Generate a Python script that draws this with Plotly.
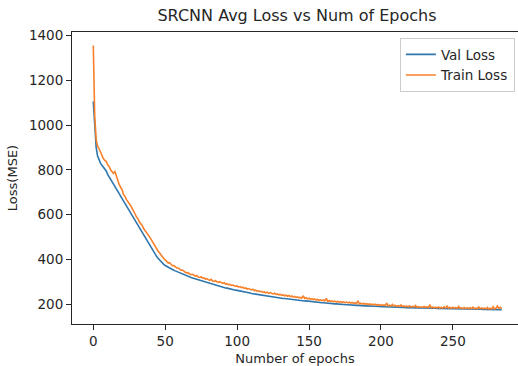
import plotly.graph_objects as go

val_loss = [
    1105, 985, 900, 862, 843, 830, 820, 812, 804, 795,
    780, 770, 760, 749, 738, 727, 716, 705, 694, 683,
    672, 661, 650, 639, 628, 617, 606, 595, 584, 573,
    562, 551, 540, 529, 519, 509, 499, 489, 479, 468,
    457, 446, 435, 424, 414, 405, 397, 390, 384, 378,
    373, 369, 365, 361, 358, 355, 352, 349, 346, 343,
    340, 337, 334, 331, 328, 326, 323, 321, 319, 317,
    315, 313, 311, 309, 307, 304, 302, 300, 298, 296,
    294, 292, 290, 288, 286, 284, 282, 280, 279, 277,
    276, 274, 273, 272, 270, 269, 267, 266, 265, 263,
    262, 261, 259, 258, 256, 255, 254, 252, 251, 250,
    248, 247, 246, 244, 243, 242, 240, 239, 238, 237,
    236, 235, 234, 234, 233, 232, 231, 230, 230, 229,
    228, 227, 226, 226, 225, 224, 223, 222, 222, 221,
    220, 219, 219, 218, 217, 217, 216, 215, 215, 214,
    213, 213, 212, 211, 211, 210, 209, 209, 208, 207,
    207, 206, 205, 205, 204, 204, 203, 203, 202, 202,
    201, 201, 200, 200, 199, 199, 198, 198, 197, 197,
    196, 196, 196, 195, 195, 194, 194, 194, 193, 193,
    193, 192, 192, 192, 191, 191, 191, 190, 190, 190,
    189, 189, 189, 189, 188, 188, 188, 188, 187, 187,
    187, 187, 186, 186, 186, 186, 186, 185, 185, 185,
    185, 185, 184, 184, 184, 184, 184, 183, 183, 183,
    183, 183, 183, 182, 182, 182, 182, 182, 182, 181,
    181, 181, 181, 181, 181, 181, 180, 180, 180, 180,
    180, 180, 180, 180, 179, 179, 179, 179, 179, 179,
    179, 179, 178, 178, 178, 178, 178, 178, 178, 178,
    178, 177, 177, 177, 177, 177, 177, 177, 177, 177,
    177, 176, 176, 176, 176,
]

train_loss = [
    1355, 1040, 935, 905, 895, 880, 862, 850, 842, 838,
    822, 815, 800, 790, 785, 792, 770, 752, 735, 722,
    712, 690, 682, 668, 660, 648, 640, 628, 612, 604,
    590, 582, 568, 560, 552, 538, 530, 522, 510, 502,
    492, 480, 470, 458, 450, 438, 430, 420, 412, 404,
    398, 392, 385, 386, 378, 372, 373, 366, 362, 362,
    356, 352, 353, 346, 343, 340, 341, 335, 332, 334,
    328, 326, 329, 322, 320, 323, 316, 318, 312, 314,
    310, 307, 311, 304, 302, 306, 300, 298, 301, 295,
    293, 296, 290, 292, 287, 289, 284, 286, 283, 280,
    282, 277, 279, 274, 276, 271, 273, 268, 270, 266,
    264, 267, 261, 263, 258, 260, 256, 258, 253, 255,
    251, 254, 249, 252, 247, 246, 249, 244, 246, 242,
    244, 240, 242, 238, 241, 236, 239, 234, 237, 232,
    235, 230, 233, 229, 231, 227, 238, 226, 229, 224,
    227, 222, 225, 221, 224, 219, 222, 217, 220, 216,
    219, 215, 226, 213, 217, 212, 215, 211, 214, 210,
    213, 209, 212, 208, 211, 207, 210, 206, 209, 205,
    208, 204, 207, 203, 215, 202, 205, 201, 204, 200,
    203, 199, 202, 198, 201, 197, 200, 196, 199, 195,
    198, 195, 197, 194, 205, 193, 196, 192, 199, 192,
    195, 191, 194, 190, 197, 190, 193, 189, 192, 189,
    193, 188, 191, 188, 195, 187, 190, 187, 189, 186,
    190, 186, 189, 185, 196, 185, 188, 184, 187, 184,
    188, 184, 186, 183, 189, 183, 192, 183, 186, 182,
    187, 182, 185, 182, 190, 182, 184, 181, 186, 181,
    184, 181, 185, 180, 187, 180, 183, 180, 188, 180,
    184, 180, 183, 179, 186, 179, 182, 179, 189, 179,
    183, 192, 181, 187, 182,
]

epochs = list(range(len(val_loss)))

title_text = "SRCNN Avg Loss vs Num of Epochs"
x_label = "Number of epochs"
y_label = "Loss(MSE)"
x_ticks = [0, 50, 100, 150, 200, 250]
y_ticks = [200, 400, 600, 800, 1000, 1200, 1400]

font_family = "DejaVu Sans"
txt = "#262626"

fig = go.Figure()
fig.add_trace(go.Scatter(x=epochs, y=val_loss, mode="lines", name="Val Loss",
                         line=dict(color="#2f76ad", width=1.6)))
fig.add_trace(go.Scatter(x=epochs, y=train_loss, mode="lines", name="Train Loss",
                         line=dict(color="#f7802a", width=1.6)))

fig.update_layout(
    width=518, height=366,
    margin=dict(l=72, r=0, t=32, b=42),
    paper_bgcolor="white", plot_bgcolor="white",
    font=dict(family=font_family, size=13, color=txt),
    title=dict(text=title_text, x=(72 + 522) / 2 / 518, xanchor="center",
               y=1 - 15 / 366, yanchor="middle", yref="container",
               font=dict(size=16, color=txt)),
    legend=dict(x=0.993, xanchor="right", y=0.979, yanchor="top",
                bordercolor="#cccccc", borderwidth=1, bgcolor="white",
                font=dict(size=13.5, color=txt), tracegroupgap=0),
    showlegend=True,
)
fig.update_xaxes(range=[-14.8, 295.3], tickvals=x_ticks, ticks="outside", ticklen=5,
                 tickcolor=txt, showline=True, linecolor=txt, linewidth=1, mirror=True,
                 showgrid=False, zeroline=False, tickfont=dict(size=13.5),
                 title=dict(text=x_label, standoff=6, font=dict(size=13, color=txt)))
fig.update_yaxes(range=[112, 1415], tickvals=y_ticks, ticks="outside", ticklen=5,
                 tickcolor=txt, showline=True, linecolor=txt, linewidth=1, mirror=True,
                 showgrid=False, zeroline=False, tickfont=dict(size=13.5),
                 title=dict(text=y_label, standoff=8, font=dict(size=13, color=txt)))

fig.write_html("out.html")
